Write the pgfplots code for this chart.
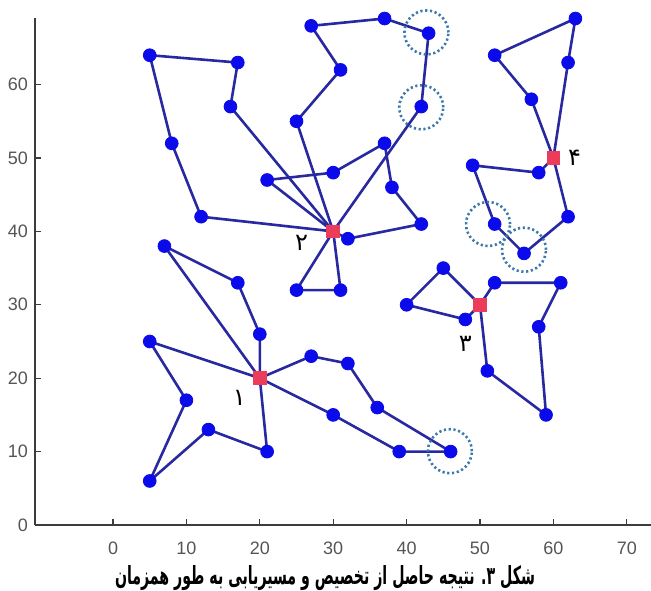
\documentclass[border=0pt]{standalone}
\usepackage{pgfplots}
\pgfplotsset{compat=1.18}
\usepackage{graphicx}
\usepackage{fontspec}
\setmainfont{Liberation Sans}
\newfontfamily\arabicfont[Script=Arabic]{DejaVu Sans}
\TeXXeTstate=1
\definecolor{routeline}{RGB}{40,40,160}
\definecolor{custblue}{RGB}{10,10,235}
\definecolor{depotred}{RGB}{235,60,90}
\definecolor{circblue}{RGB}{60,120,170}
\definecolor{tickgray}{RGB}{85,85,85}
\definecolor{axisgray}{RGB}{60,60,60}
\begin{document}
\begin{tikzpicture}
\useasboundingbox (-17.5pt,-32.5pt) rectangle (308pt,262.5pt);
\begin{axis}[
  at={(0,0)}, anchor=south west,
  scale only axis, width=308pt, height=253.5pt,
  xmin=-10.63, xmax=73.3, ymin=0, ymax=69.07,
  axis lines=left, axis line style={-, draw=axisgray, line width=0.8pt},
  tick align=inside, major tick length=3pt, tick style={axisgray, line width=0.6pt},
  xtick={0,10,...,70}, ytick={0,10,...,60},
  /pgf/number format/assume math mode=true,
  ticklabel style={font=\fontsize{9}{10}\selectfont, text=tickgray},
  xticklabel style={yshift=-5pt},
  clip=false,
  route/.style={routeline, line width=1.3pt, line join=round, no marks},
]
% depots
\addplot[only marks, mark=square*, mark size=3.2pt, mark options={fill=depotred, draw=depotred}]
  coordinates {(20,20) (30,40) (50,30) (60,50)};
% depot 1 routes
\addplot[route] coordinates {(20,20) (5,25) (10,17) (5,6) (13,13) (21,10) (20,20)};
\addplot[route] coordinates {(20,20) (20,26) (17,33) (7,38) (20,20)};
\addplot[route] coordinates {(20,20) (27,23) (32,22) (36,16) (46,10) (39,10) (30,15) (20,20)};
% depot 2 routes
\addplot[route] coordinates {(30,40) (16,57) (17,63) (5,64) (8,52) (12,42) (30,40)};
\addplot[route] coordinates {(30,40) (21,47) (30,48) (37,52) (38,46) (42,41) (32,39) (30,40)};
\addplot[route] coordinates {(30,40) (25,55) (31,62) (27,68) (37,69) (43,67) (42,57) (30,40)};
\addplot[route] coordinates {(30,40) (25,32) (31,32) (30,40)};
% depot 3 routes
\addplot[route] coordinates {(50,30) (45,35) (40,30) (48,28) (50,30)};
\addplot[route] coordinates {(50,30) (52,33) (61,33) (58,27) (59,15) (51,21) (50,30)};
% depot 4 routes
\addplot[route] coordinates {(60,50) (62,63) (63,69) (52,64) (57,58) (60,50)};
\addplot[route] coordinates {(60,50) (58,48) (49,49) (52,41) (56,37) (62,42) (60,50)};
% customers
\addplot[only marks, mark=*, mark size=3.2pt, mark options={fill=custblue, draw=custblue}]
  coordinates {
  (5,25) (10,17) (5,6) (13,13) (21,10)
  (20,26) (17,33) (7,38)
  (27,23) (32,22) (36,16) (46,10) (39,10) (30,15)
  (16,57) (17,63) (5,64) (8,52) (12,42)
  (21,47) (30,48) (37,52) (38,46) (42,41) (32,39)
  (25,55) (31,62) (27,68) (37,69) (43,67) (42,57)
  (25,32) (31,32)
  (45,35) (40,30) (48,28)
  (52,33) (61,33) (58,27) (59,15) (51,21)
  (62,63) (63,69) (52,64) (57,58)
  (58,48) (49,49) (52,41) (56,37) (62,42)
  };
% highlighted circles
\addplot[only marks, mark=o, mark size=11pt,
  mark options={draw=circblue, line width=1.3pt, dash pattern=on 1.1pt off 1.3pt}]
  coordinates {(42.7,67.1) (42,56.9) (51.1,41) (56,37.5) (45.9,10.05)};
% depot labels
\node[font=\arabicfont\fontsize{12}{12}\selectfont] at (axis cs:17.2,17.3) {۱};
\node[font=\arabicfont\fontsize{12}{12}\selectfont] at (axis cs:25.7,38.4) {۲};
\node[font=\arabicfont\fontsize{12}{12}\selectfont] at (axis cs:48,24.7) {۳};
\node[font=\arabicfont\fontsize{12}{12}\selectfont] at (axis cs:62.9,50) {۴};
\end{axis}
\node[inner sep=0pt, font=\arabicfont\bfseries\fontsize{12.5}{14}\selectfont] at (145pt,-26.5pt)
  {\resizebox{210pt}{\height}{\beginR شکل ۳. نتیجه حاصل از تخصیص و مسیریابی به طور همزمان\endR}};
\end{tikzpicture}
\end{document}
